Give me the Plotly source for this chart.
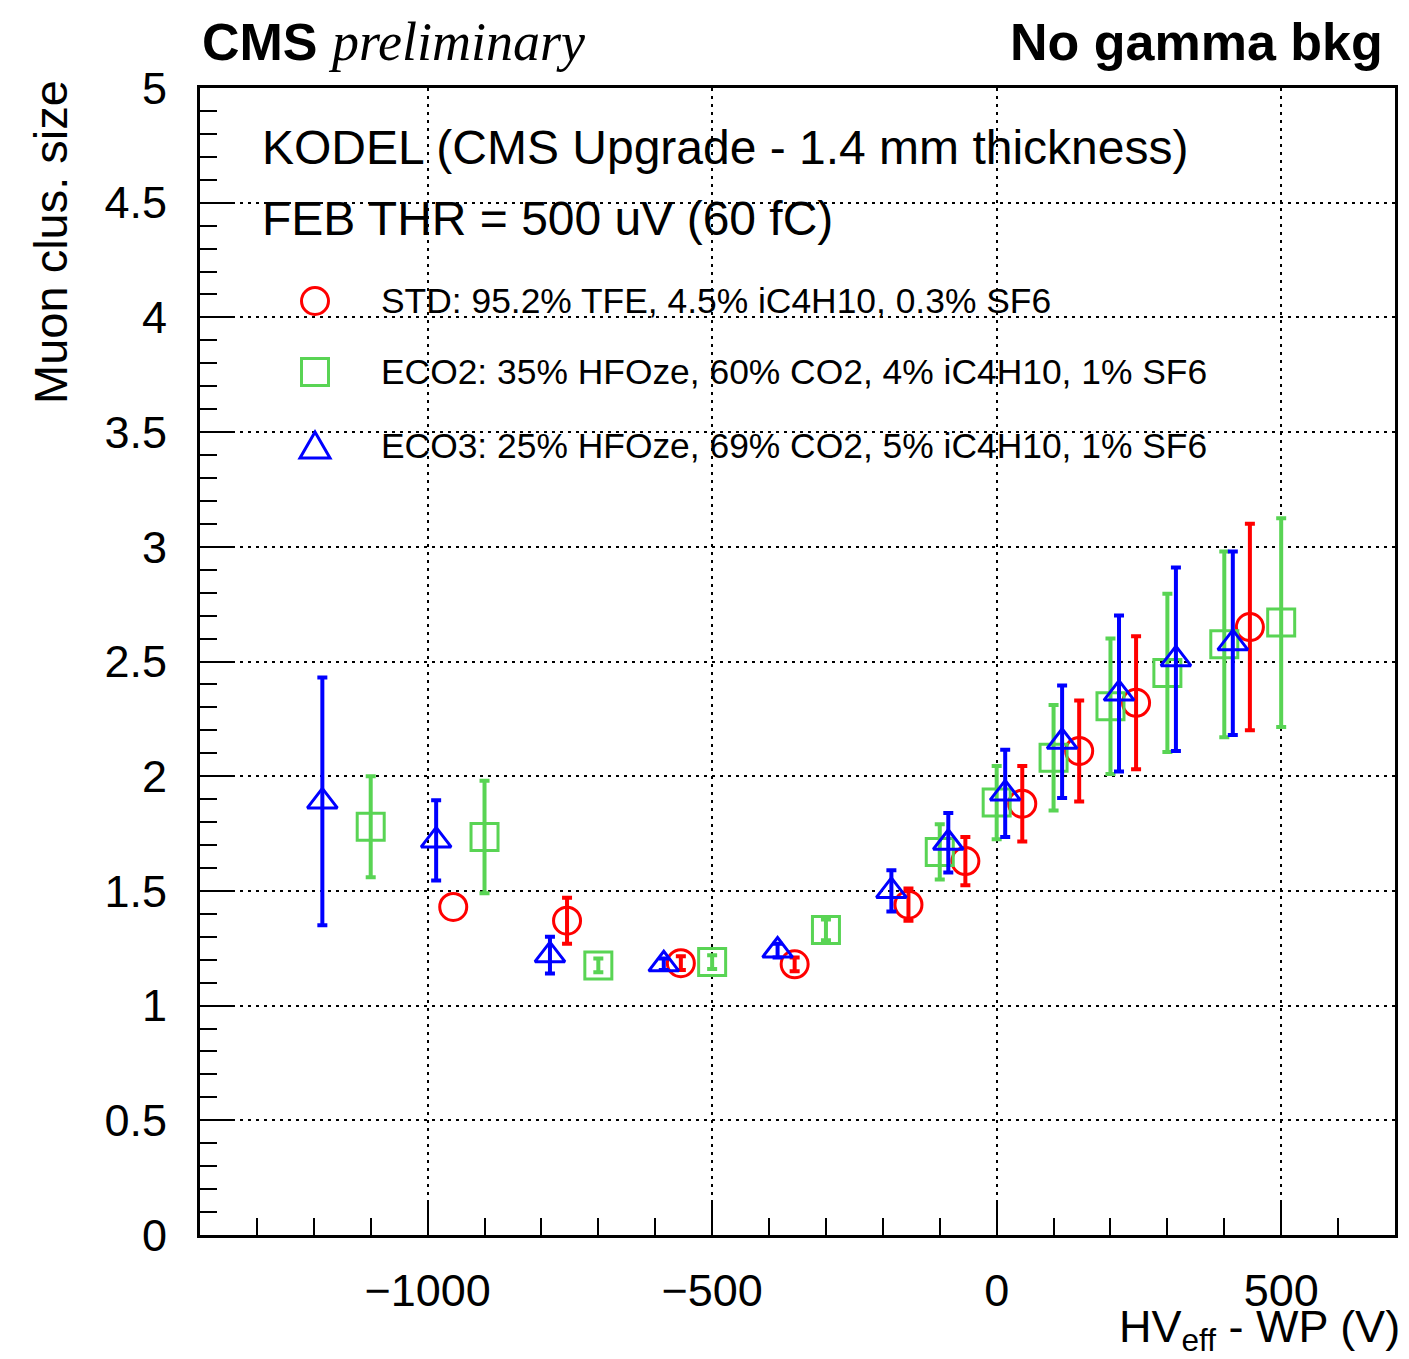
import plotly.graph_objects as go

# ---------------- data ----------------
std_x = [-955, -755, -555, -355, -155, -55, 45, 145, 245, 445]
std_y = [1.43, 1.37, 1.185, 1.18, 1.44, 1.63, 1.88, 2.11, 2.32, 2.65]
std_err = [None, 0.10, 0.03, 0.03, 0.07, 0.105, 0.165, 0.22, 0.29, 0.45]

eco2_x = [-1100, -900, -700, -500, -300, -100, 0, 100, 200, 300, 400, 500]
eco2_y = [1.78, 1.735, 1.175, 1.19, 1.33, 1.67, 1.885, 2.08, 2.305, 2.45, 2.575, 2.67]
eco2_err = [0.22, 0.245, 0.03, 0.03, 0.045, 0.12, 0.16, 0.23, 0.295, 0.345, 0.405, 0.455]

eco3_x = [-1185, -985, -785, -585, -385, -185, -85, 15, 115, 215, 315, 415]
eco3_y = [1.89, 1.72, 1.22, 1.18, 1.24, 1.50, 1.71, 1.925, 2.15, 2.36, 2.51, 2.58]
eco3_err = [0.54, 0.175, 0.08, 0.025, 0.03, 0.09, 0.13, 0.19, 0.245, 0.34, 0.40, 0.40]

series_names = [
    "STD: 95.2% TFE, 4.5% iC4H10, 0.3% SF6",
    "ECO2: 35% HFOze, 60% CO2, 4% iC4H10, 1% SF6",
    "ECO3: 25% HFOze, 69% CO2, 5% iC4H10, 1% SF6",
]
series_colors = ["#FF0000", "#59D454", "#0000FF"]
series_symbols = ["circle-open", "square-open", "triangle-up-open"]

x_range = [-1400, 700]
y_range = [0, 5]

FONT = "Liberation Sans, Arial, Helvetica, sans-serif"
SERIF = "Liberation Serif, Times New Roman, serif"

W, H = 1409, 1359
ML, MR, MT, MB = 200, 14, 88, 124
PW, PH = W - ML - MR, H - MT - MB


def px2paper_x(px):
    return (px - ML) / PW


def px2paper_y(py):
    return (H - MB - py) / PH


fig = go.Figure()

data_sets = [
    (std_x, std_y, std_err, 27),
    (eco2_x, eco2_y, eco2_err, 27),
    (eco3_x, eco3_y, eco3_err, 26),
]
for (xs, ys, es, ms), name, col, sym in zip(data_sets, series_names, series_colors, series_symbols):
    has_err = [e is not None for e in es]
    # points with an error bar
    fig.add_trace(go.Scatter(
        x=[x for x, h in zip(xs, has_err) if h],
        y=[y for y, h in zip(ys, has_err) if h],
        mode="markers", name=name, showlegend=False,
        marker=dict(symbol=sym, size=ms, color=col, line=dict(color=col, width=3)),
        error_y=dict(type="data", array=[e for e in es if e is not None], visible=True,
                     color=col, thickness=4, width=5),
    ))
    # points without a visible error bar
    if not all(has_err):
        fig.add_trace(go.Scatter(
            x=[x for x, h in zip(xs, has_err) if not h],
            y=[y for y, h in zip(ys, has_err) if not h],
            mode="markers", name=name, showlegend=False,
            marker=dict(symbol=sym, size=ms, color=col, line=dict(color=col, width=3)),
        ))

axis_common = dict(
    showline=True, linecolor="black", linewidth=3, mirror=True,
    ticks="inside", tickcolor="black", tickwidth=2, ticklen=35,
    showgrid=True, gridcolor="black", gridwidth=2, griddash="3px,5px",
    zeroline=False,
    tickfont=dict(family=FONT, size=45, color="black"),
)

fig.update_xaxes(
    range=x_range, tick0=0, dtick=500, ticklabelstandoff=14,
    minor=dict(dtick=100, tick0=0, ticks="inside", ticklen=17, tickwidth=2,
               tickcolor="black", showgrid=False),
    **axis_common,
)
fig.update_yaxes(
    range=y_range, tick0=0, dtick=0.5, ticklabelstandoff=21,
    minor=dict(dtick=0.1, tick0=0, ticks="inside", ticklen=17, tickwidth=2,
               tickcolor="black", showgrid=False),
    **axis_common,
)

annotations = [
    dict(text="Muon clus. size", textangle=-90, xref="paper", yref="paper",
         x=px2paper_x(50), y=px2paper_y(78), xanchor="center", yanchor="top",
         showarrow=False, font=dict(family=FONT, size=47, color="black")),
    dict(text="HV<sub>eff</sub> - WP (V)", xref="paper", yref="paper",
         x=px2paper_x(1402), y=px2paper_y(1299), xanchor="right", yanchor="top",
         showarrow=False, font=dict(family=FONT, size=45, color="black")),
    dict(text="<b>CMS</b> <span style='font-family:" + SERIF + ";font-size:54px'><i>preliminary</i></span>",
         xref="paper", yref="paper", x=px2paper_x(200), y=px2paper_y(42),
         xanchor="left", yanchor="middle", showarrow=False,
         font=dict(family=FONT, size=52, color="black")),
    dict(text="<b>No gamma bkg</b>", xref="paper", yref="paper",
         x=px2paper_x(1385), y=px2paper_y(42), xanchor="right", yanchor="middle",
         showarrow=False, font=dict(family=FONT, size=52, color="black")),
    dict(text="KODEL (CMS Upgrade - 1.4 mm thickness)", xref="paper", yref="paper",
         x=px2paper_x(260), y=px2paper_y(147), xanchor="left", yanchor="middle",
         showarrow=False, font=dict(family=FONT, size=48, color="black")),
    dict(text="FEB THR = 500 uV (60 fC)", xref="paper", yref="paper",
         x=px2paper_x(260), y=px2paper_y(218), xanchor="left", yanchor="middle",
         showarrow=False, font=dict(family=FONT, size=48, color="black")),
]

# manual legend (ROOT style)
leg_rows = [301, 372, 446]
shapes = []
for name, col, sym, row in zip(series_names, series_colors, series_symbols, leg_rows):
    annotations.append(dict(
        text=name, xref="paper", yref="paper", x=px2paper_x(379), y=px2paper_y(row),
        xanchor="left", yanchor="middle", showarrow=False,
        font=dict(family=FONT, size=35.4, color="black")))
    base = dict(xref="paper", yref="paper", xsizemode="pixel", ysizemode="pixel",
                xanchor=px2paper_x(315), yanchor=px2paper_y(row),
                line=dict(color=col, width=3), fillcolor="rgba(0,0,0,0)")
    if sym.startswith("circle"):
        shapes.append(dict(type="circle", x0=-13.5, x1=13.5, y0=-13.5, y1=13.5, **base))
    elif sym.startswith("square"):
        shapes.append(dict(type="rect", x0=-13.5, x1=13.5, y0=-13.5, y1=13.5, **base))
    else:
        shapes.append(dict(type="path", path="M -15,-12 L 15,-12 L 0,14 Z", **base))

fig.update_layout(
    width=W, height=H,
    margin=dict(l=ML, r=MR, t=MT, b=MB, pad=0),
    paper_bgcolor="white", plot_bgcolor="white",
    font=dict(family=FONT, color="black"),
    annotations=annotations, shapes=shapes,
    showlegend=False,
)

fig.write_html("out.html")
